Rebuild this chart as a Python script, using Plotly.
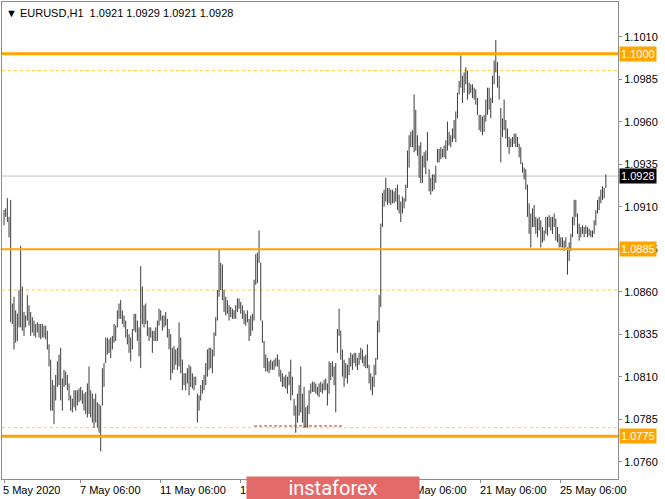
import plotly.graph_objects as go
import pandas as pd

symbol = "EURUSD,H1"
last_ohlc = ["1.0921", "1.0929", "1.0921", "1.0928"]

# hourly bar highs / lows (bar 0 = 5 May 08:00)
highs = [
    1.0908, 1.0909, 1.0915, 1.0904, 1.0914, 1.0853,
    1.0857, 1.0849, 1.0847, 1.0861, 1.0887, 1.0863,
    1.0848, 1.0846, 1.0858, 1.0852, 1.0848, 1.0845,
    1.0843, 1.0841, 1.0842, 1.0841, 1.0841, 1.0841,
    1.0840, 1.0840, 1.0837, 1.0829, 1.0820, 1.0808,
    1.0805, 1.0811, 1.0819, 1.0823, 1.0827, 1.0809,
    1.0814, 1.0813, 1.0811, 1.0806, 1.0799, 1.0797,
    1.0802, 1.0802, 1.0802, 1.0803, 1.0804, 1.0802,
    1.0800, 1.0801, 1.0806, 1.0816, 1.0802, 1.0800,
    1.0797, 1.0800, 1.0795, 1.0794, 1.0793, 1.0815,
    1.0818, 1.0833, 1.0833, 1.0832, 1.0833, 1.0834,
    1.0841, 1.0840, 1.0849, 1.0853, 1.0855, 1.0849,
    1.0846, 1.0843, 1.0838, 1.0835, 1.0833, 1.0838,
    1.0847, 1.0847, 1.0843, 1.0839, 1.0875, 1.0863,
    1.0852, 1.0853, 1.0843, 1.0839, 1.0839, 1.0837,
    1.0837, 1.0839, 1.0843, 1.0850, 1.0849, 1.0846,
    1.0846, 1.0848, 1.0844, 1.0838, 1.0835, 1.0827,
    1.0828, 1.0826, 1.0827, 1.0842, 1.0833, 1.0820,
    1.0812, 1.0812, 1.0815, 1.0817, 1.0816, 1.0812,
    1.0810, 1.0810, 1.0800, 1.0799, 1.0805, 1.0808,
    1.0811, 1.0818, 1.0826, 1.0827, 1.0827, 1.0826,
    1.0836, 1.0845, 1.0861, 1.0885, 1.0877, 1.0876,
    1.0861, 1.0857, 1.0855, 1.0852, 1.0851, 1.0850,
    1.0849, 1.0852, 1.0856, 1.0856, 1.0854, 1.0852,
    1.0849, 1.0847, 1.0849, 1.0844, 1.0846, 1.0847,
    1.0867, 1.0882, 1.0883, 1.0896, 1.0877, 1.0843,
    1.0831, 1.0823, 1.0821, 1.0819, 1.0820, 1.0819,
    1.0820, 1.0821, 1.0823, 1.0820, 1.0814, 1.0812,
    1.0810, 1.0811, 1.0810, 1.0813, 1.0820, 1.0810,
    1.0797, 1.0793, 1.0800, 1.0805, 1.0816, 1.0800,
    1.0804, 1.0792, 1.0793, 1.0802, 1.0806, 1.0807,
    1.0807, 1.0806, 1.0804, 1.0806, 1.0807, 1.0806,
    1.0808, 1.0809, 1.0806, 1.0819, 1.0818, 1.0819,
    1.0816, 1.0818, 1.0838, 1.0850, 1.0837, 1.0826,
    1.0820, 1.0818, 1.0817, 1.0821, 1.0824, 1.0823,
    1.0824, 1.0824, 1.0821, 1.0824, 1.0827, 1.0826,
    1.0822, 1.0823, 1.0829, 1.0817, 1.0812, 1.0810,
    1.0817, 1.0821, 1.0843, 1.0858, 1.0900, 1.0918,
    1.0920, 1.0927, 1.0921, 1.0921, 1.0920, 1.0920,
    1.0919, 1.0921, 1.0923, 1.0917, 1.0913, 1.0916,
    1.0915, 1.0923, 1.0943, 1.0952, 1.0954, 1.0955,
    1.0976, 1.0967, 1.0952, 1.0946, 1.0948, 1.0940,
    1.0942, 1.0943, 1.0954, 1.0932, 1.0927, 1.0929,
    1.0929, 1.0934, 1.0944, 1.0944, 1.0945, 1.0944,
    1.0946, 1.0949, 1.0960, 1.0954, 1.0952, 1.0956,
    1.0961, 1.0966, 1.0977, 1.0984, 1.0999, 1.0987,
    1.0989, 1.0992, 1.0990, 1.0983, 1.0982, 1.0982,
    1.0980, 1.0979, 1.0974, 1.0964, 1.0964, 1.0963,
    1.0964, 1.0973, 1.0980, 1.0980, 1.0974, 1.0987,
    1.0996, 1.1008, 1.0995, 1.0987, 1.0968, 1.0962,
    1.0973, 1.0961, 1.0956, 1.0951, 1.0950, 1.0951,
    1.0953, 1.0953, 1.0951, 1.0947, 1.0945, 1.0936,
    1.0933, 1.0932, 1.0923, 1.0912, 1.0906, 1.0909,
    1.0911, 1.0904, 1.0903, 1.0904, 1.0902, 1.0898,
    1.0896, 1.0904, 1.0904, 1.0905, 1.0904, 1.0904,
    1.0906, 1.0903, 1.0898, 1.0894, 1.0892, 1.0892,
    1.0890, 1.0892, 1.0886, 1.0889, 1.0894, 1.0904,
    1.0914, 1.0914, 1.0906, 1.0900, 1.0898, 1.0899,
    1.0898, 1.0899, 1.0898, 1.0897, 1.0896, 1.0896,
    1.0902, 1.0908, 1.0914, 1.0916, 1.0920, 1.0922,
    1.0921, 1.0929,
]
lows = [
    1.0899, 1.0904, 1.0901, 1.0892, 1.0842, 1.0841,
    1.0826, 1.0830, 1.0831, 1.0839, 1.0839, 1.0837,
    1.0834, 1.0839, 1.0843, 1.0840, 1.0834, 1.0836,
    1.0834, 1.0833, 1.0836, 1.0833, 1.0832, 1.0833,
    1.0833, 1.0832, 1.0826, 1.0816, 1.0790, 1.0790,
    1.0782, 1.0796, 1.0804, 1.0805, 1.0796, 1.0790,
    1.0804, 1.0805, 1.0802, 1.0796, 1.0790, 1.0789,
    1.0792, 1.0790, 1.0793, 1.0795, 1.0796, 1.0794,
    1.0790, 1.0788, 1.0786, 1.0788, 1.0786, 1.0783,
    1.0780, 1.0783, 1.0780, 1.0777, 1.0766, 1.0793,
    1.0804, 1.0818, 1.0823, 1.0824, 1.0821, 1.0826,
    1.0830, 1.0831, 1.0839, 1.0844, 1.0844, 1.0841,
    1.0839, 1.0833, 1.0829, 1.0824, 1.0819, 1.0826,
    1.0837, 1.0836, 1.0831, 1.0822, 1.0815, 1.0841,
    1.0839, 1.0841, 1.0834, 1.0831, 1.0833, 1.0824,
    1.0831, 1.0831, 1.0831, 1.0840, 1.0843, 1.0837,
    1.0839, 1.0840, 1.0833, 1.0826, 1.0808, 1.0812,
    1.0814, 1.0817, 1.0814, 1.0816, 1.0812, 1.0802,
    1.0805, 1.0802, 1.0806, 1.0799, 1.0804, 1.0803,
    1.0802, 1.0805, 1.0783, 1.0790, 1.0796, 1.0800,
    1.0802, 1.0805, 1.0810, 1.0814, 1.0815, 1.0812,
    1.0822, 1.0834, 1.0843, 1.0857, 1.0861, 1.0855,
    1.0848, 1.0846, 1.0847, 1.0843, 1.0845, 1.0844,
    1.0844, 1.0844, 1.0848, 1.0850, 1.0847, 1.0844,
    1.0841, 1.0840, 1.0842, 1.0831, 1.0834, 1.0837,
    1.0843, 1.0864, 1.0865, 1.0877, 1.0843, 1.0830,
    1.0815, 1.0813, 1.0813, 1.0812, 1.0814, 1.0814,
    1.0814, 1.0816, 1.0816, 1.0810, 1.0807, 1.0804,
    1.0804, 1.0803, 1.0800, 1.0805, 1.0796, 1.0799,
    1.0787, 1.0777, 1.0783, 1.0787, 1.0789, 1.0783,
    1.0780, 1.0780, 1.0780, 1.0788, 1.0800, 1.0801,
    1.0801, 1.0800, 1.0799, 1.0798, 1.0801, 1.0800,
    1.0802, 1.0802, 1.0793, 1.0800, 1.0808, 1.0810,
    1.0805, 1.0789, 1.0824, 1.0834, 1.0820, 1.0810,
    1.0804, 1.0809, 1.0806, 1.0811, 1.0816, 1.0814,
    1.0818, 1.0816, 1.0814, 1.0817, 1.0820, 1.0818,
    1.0816, 1.0815, 1.0815, 1.0806, 1.0802, 1.0799,
    1.0804, 1.0811, 1.0820, 1.0836, 1.0851, 1.0898,
    1.0910, 1.0913, 1.0911, 1.0912, 1.0911, 1.0912,
    1.0912, 1.0913, 1.0908, 1.0906, 1.0901, 1.0906,
    1.0909, 1.0913, 1.0921, 1.0933, 1.0945, 1.0945,
    1.0942, 1.0943, 1.0940, 1.0927, 1.0924, 1.0924,
    1.0933, 1.0929, 1.0937, 1.0919, 1.0917, 1.0919,
    1.0920, 1.0924, 1.0936, 1.0936, 1.0938, 1.0939,
    1.0939, 1.0938, 1.0943, 1.0946, 1.0945, 1.0948,
    1.0950, 1.0948, 1.0962, 1.0976, 1.0980, 1.0971,
    1.0977, 1.0982, 1.0973, 1.0976, 1.0977, 1.0974,
    1.0973, 1.0970, 1.0964, 1.0955, 1.0954, 1.0952,
    1.0954, 1.0960, 1.0964, 1.0967, 1.0962, 1.0971,
    1.0982, 1.0989, 1.0980, 1.0973, 1.0936, 1.0951,
    1.0955, 1.0950, 1.0945, 1.0941, 1.0945, 1.0945,
    1.0947, 1.0945, 1.0945, 1.0939, 1.0935, 1.0930,
    1.0926, 1.0920, 1.0904, 1.0894, 1.0886, 1.0898,
    1.0898, 1.0894, 1.0892, 1.0896, 1.0886, 1.0889,
    1.0890, 1.0894, 1.0893, 1.0898, 1.0896, 1.0894,
    1.0898, 1.0890, 1.0889, 1.0886, 1.0886, 1.0886,
    1.0884, 1.0886, 1.0870, 1.0878, 1.0884, 1.0892,
    1.0899, 1.0904, 1.0894, 1.0890, 1.0892, 1.0894,
    1.0892, 1.0894, 1.0892, 1.0893, 1.0892, 1.0892,
    1.0894, 1.0899, 1.0906, 1.0908, 1.0912, 1.0914,
    1.0915, 1.0921,
]

times = pd.date_range("2020-05-05 08:00", "2020-05-26 09:00", freq="h")
times = times[times.dayofweek < 5]
n = min(len(times), len(highs), len(lows))

tick_times = ["2020-05-05 08:00", "2020-05-07 06:00", "2020-05-11 06:00",
              "2020-05-13 06:00", "2020-05-15 06:00", "2020-05-19 06:00",
              "2020-05-21 06:00", "2020-05-25 06:00"]
tick_labels = ["5 May 2020", "7 May 06:00", "11 May 06:00", "13 May 06:00",
               "15 May 06:00", "19 May 06:00", "21 May 06:00", "25 May 06:00"]
price_ticks = [1.0760, 1.0785, 1.0810, 1.0835, 1.0860, 1.0885,
               1.0910, 1.0935, 1.0960, 1.0985, 1.1010]
solid_levels = [1.1000, 1.0885, 1.0775]
dotted_levels = [1.0990, 1.0861, 1.0780]
last_price = 1.0928
support_times = ["2020-05-13 14:00", "2020-05-15 19:00"]
support_price = 1.0781
watermark = "instaforex"

def idx(t):
    return int(times.get_loc(pd.Timestamp(t)))

xs, ys = [], []
for i in range(n):
    xs += [i, i, None]
    ys += [lows[i], highs[i], None]

FONT = "Liberation Sans, Arial, sans-serif"
ORANGE = "#FFA500"
DOT = "#FFCC33"

fig = go.Figure()
fig.add_trace(go.Scatter(x=xs, y=ys, mode="lines",
                         line=dict(color="#3c3c3c", width=1),
                         hoverinfo="skip", showlegend=False))

shapes = []
# current price line
shapes.append(dict(type="line", xref="paper", x0=0, x1=1, y0=last_price, y1=last_price,
                   line=dict(color="#C4C4C4", width=1), layer="below"))
for lv in dotted_levels:
    shapes.append(dict(type="line", xref="paper", x0=0, x1=1, y0=lv, y1=lv,
                       line=dict(color=DOT, width=1, dash="dot"), layer="below"))
for lv, w in zip(solid_levels, [3, 2, 3]):
    shapes.append(dict(type="line", xref="paper", x0=0, x1=1, y0=lv, y1=lv,
                       line=dict(color=ORANGE, width=w), layer="above"))
# support segment
shapes.append(dict(type="line", x0=idx(support_times[0]), x1=idx(support_times[1]),
                   y0=support_price, y1=support_price,
                   line=dict(color="#C03A2B", width=1, dash="3px,2px")))

annotations = []
annotations.append(dict(xref="paper", yref="paper", x=0, y=1, xanchor="left", yanchor="top",
                        xshift=2, yshift=-3, showarrow=False,
                        text="\u25BC\u00a0" + symbol + "\u00a0\u00a0" + " ".join(last_ohlc),
                        font=dict(family=FONT, size=11, color="#000000")))
for t, lab in zip(tick_times, tick_labels):
    annotations.append(dict(x=idx(t), xref="x", yref="paper", y=0, xanchor="left",
                            yanchor="top", xshift=-3, yshift=-3, showarrow=False,
                            text=lab, font=dict(family=FONT, size=11, color="#000000")))
for lv in solid_levels:
    annotations.append(dict(xref="paper", x=1, y=lv, xanchor="left", yanchor="middle",
                            xshift=1, showarrow=False, text=f"{lv:.4f}",
                            bgcolor=ORANGE, borderpad=1,
                            font=dict(family=FONT, size=11, color="#FFFFFF")))
annotations.append(dict(xref="paper", x=1, y=last_price, xanchor="left", yanchor="middle",
                        xshift=1, showarrow=False, text=f"{last_price:.4f}",
                        bgcolor="#000000", borderpad=1,
                        font=dict(family=FONT, size=11, color="#FFFFFF")))
# watermark box (drawn last so it covers the hidden date labels)
annotations.append(dict(xref="paper", yref="paper", x=0.537, y=0, xanchor="center",
                        yanchor="top", yshift=3, showarrow=False, text=watermark,
                        width=172, height=22, bgcolor="#E46A6A", borderpad=0,
                        font=dict(family="Roboto, sans-serif", size=20, color="#FFFFFF")))

fig.update_layout(
    width=665, height=499,
    margin=dict(l=2, r=47, t=2, b=20),
    paper_bgcolor="#FFFFFF", plot_bgcolor="#FFFFFF",
    showlegend=False,
    shapes=shapes, annotations=annotations,
    font=dict(family=FONT, size=11, color="#000000"),
    xaxis=dict(range=[-1.2, 368.3], showgrid=False, zeroline=False,
               showline=True, linecolor="#8C8C8C", linewidth=1, mirror=True,
               tickvals=[idx(t) for t in tick_times], ticktext=tick_labels,
               showticklabels=False, ticks="outside", ticklen=3, tickcolor="#8C8C8C"),
    yaxis=dict(range=[1.07498, 1.10304], side="right", showgrid=False, zeroline=False,
               showline=True, linecolor="#8C8C8C", linewidth=1, mirror=True,
               tickvals=price_ticks, ticktext=[f"{p:.4f}" for p in price_ticks],
               ticks="outside", ticklen=3, tickcolor="#8C8C8C",
               tickfont=dict(family=FONT, size=11, color="#000000")),
)

fig.write_html("out.html", config={"staticPlot": True},
               post_script="document.body.style.margin='0';document.body.style.overflow='hidden';")
